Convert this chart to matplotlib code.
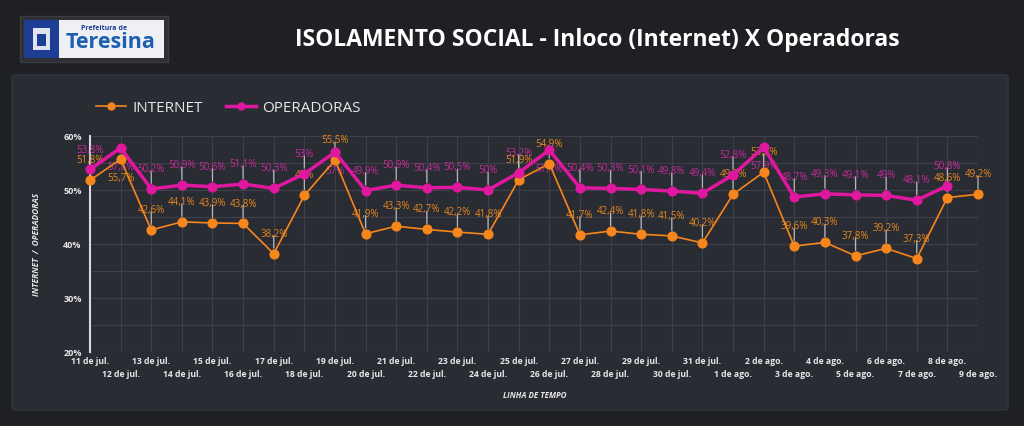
import matplotlib
matplotlib.use("Agg")
import matplotlib.pyplot as plt
from matplotlib.patches import FancyBboxPatch, Rectangle

dates = ["11 de jul.", "12 de jul.", "13 de jul.", "14 de jul.", "15 de jul.", "16 de jul.",
         "17 de jul.", "18 de jul.", "19 de jul.", "20 de jul.", "21 de jul.", "22 de jul.",
         "23 de jul.", "24 de jul.", "25 de jul.", "26 de jul.", "27 de jul.", "28 de jul.",
         "29 de jul.", "30 de jul.", "31 de jul.", "1 de ago.", "2 de ago.", "3 de ago.",
         "4 de ago.", "5 de ago.", "6 de ago.", "7 de ago.", "8 de ago.", "9 de ago."]
internet = [51.8, 55.7, 42.6, 44.1, 43.9, 43.8, 38.2, 49.0, 55.5, 41.9, 43.3, 42.7, 42.2, 41.8,
            51.9, 54.9, 41.7, 42.4, 41.8, 41.5, 40.2, 49.2, 53.3, 39.6, 40.3, 37.8, 39.2, 37.3,
            48.6, 49.2]
operadoras = [53.8, 57.8, 50.2, 50.9, 50.6, 51.1, 50.3, 53.0, 57.0, 49.9, 50.9, 50.4, 50.5, 50.0,
              53.2, 57.4, 50.4, 50.3, 50.1, 49.8, 49.4, 52.8, 57.9, 48.7, 49.3, 49.1, 49.0, 48.1,
              50.8]
yticks = [20, 30, 40, 50, 60]

# label placement: indices whose data label sits below the point
below_op = {1, 8, 15, 22}
below_int = {1}

C_INT = "#f7861c"
C_OP = "#e0179f"
C_INT_T = "#e8871e"
C_OP_T = "#c72a9c"
BG = "#1f2024"
PANEL = "#2a2c33"
GRID = "#3d4049"
FONT = "Open Sans"

W, H = 1024, 426
fig = plt.figure(figsize=(W / 100, H / 100), dpi=100, facecolor=BG)

def fx(px):
    return px / W

def fy(py):
    return 1 - py / H

# panel
fig.patches.append(FancyBboxPatch((fx(12), fy(410)), fx(996), (410 - 75) / H,
                                  boxstyle="round,pad=0,rounding_size=0.004",
                                  transform=fig.transFigure, facecolor=PANEL,
                                  edgecolor="#33353d", lw=1, zorder=-2))

# logo
fig.patches.append(Rectangle((fx(20), fy(62)), fx(148), 46 / H, transform=fig.transFigure,
                             facecolor="#2e3036", edgecolor="#3a3c42", lw=1, zorder=1))
fig.patches.append(Rectangle((fx(24), fy(58)), fx(140), 38 / H, transform=fig.transFigure,
                             facecolor="#eef0f4", edgecolor="none", zorder=2))
fig.patches.append(Rectangle((fx(24), fy(58)), fx(35), 38 / H, transform=fig.transFigure,
                             facecolor="#1d3e94", edgecolor="none", zorder=3))
fig.patches.append(Rectangle((fx(33), fy(50)), fx(17), 22 / H, transform=fig.transFigure,
                             facecolor="#dfe3ee", edgecolor="none", zorder=4))
fig.patches.append(Rectangle((fx(37), fy(46)), fx(9), 12 / H, transform=fig.transFigure,
                             facecolor="#1d3e94", edgecolor="none", zorder=5))
fig.text(fx(104), fy(29), "Prefeitura de", color="#1d3e94", fontsize=5, fontweight="bold",
         family=FONT, ha="center", va="center", zorder=6)
fig.text(fx(111), fy(43), "Teresina", color="#1d5fb0", fontsize=15.5, fontweight="bold",
         family=FONT, ha="center", va="center", zorder=6)

# title
fig.text(fx(597), fy(40), "ISOLAMENTO SOCIAL - Inloco (Internet) X Operadoras", color="white",
         fontsize=16.5, fontweight="bold", family=FONT, ha="center", va="center")

ax = fig.add_axes([fx(90), fy(352), fx(978 - 90), (352 - 136) / H])
ax.patch.set_alpha(0)
x = list(range(len(dates)))
ax.set_xlim(0, len(dates) - 1)
ax.set_ylim(20, 60)

ax.plot(x[:len(operadoras)], operadoras, color=C_OP, lw=2.5, marker="o", ms=6.3,
        clip_on=False, zorder=5, label="OPERADORAS")
ax.plot(x, internet, color=C_INT, lw=1.2, marker="o", ms=6.3, clip_on=False, zorder=4,
        label="INTERNET")

# grid
ax.set_yticks(yticks)
ax.set_yticks([25, 35, 45, 55], minor=True)
ax.set_xticks(x)
ax.grid(True, which="both", color=GRID, lw=0.8)
ax.set_axisbelow(True)
ax.tick_params(axis="both", which="both", length=0)
ax.tick_params(axis="y", pad=6)
ax.set_xticklabels([])
ax.set_yticklabels([f"{v}%" for v in yticks], color="#e6e6e6", fontsize=6.5,
                   fontweight="bold", family=FONT)
for s in ["top", "right", "bottom"]:
    ax.spines[s].set_visible(False)
ax.spines["left"].set_color("#d8d8d8")
ax.spines["left"].set_linewidth(1.5)

# x labels in two rows
for i, d in enumerate(dates):
    off = -7 if i % 2 == 0 else -16
    ax.annotate(d, xy=(i, 0), xycoords=("data", "axes fraction"), xytext=(0, off),
                textcoords="offset points", ha="center", va="center", color="#e6e6e6",
                fontsize=6.2, fontweight="bold", family=FONT, annotation_clip=False)

# data labels with leader lines
def fmt(v):
    s = f"{v:.1f}".replace(".", ",")
    if s.endswith(",0"):
        s = s[:-2]
    return s + "%"

def label_series(vals, col, below):
    for i, v in enumerate(vals):
        sgn = -1 if i in below else 1
        if sgn > 0:
            ax.annotate("", xy=(i, v), xytext=(0, 13), textcoords="offset points",
                        xycoords="data",
                        arrowprops=dict(arrowstyle="-", color="#b5b7bd", lw=0.9,
                                        shrinkA=0, shrinkB=4), zorder=3,
                        annotation_clip=False)
        ax.annotate(fmt(v), xy=(i, v), xytext=(0, 14 * sgn), textcoords="offset points",
                    ha="center", va="center", color=col, fontsize=7, family=FONT,
                    zorder=3.5, annotation_clip=False)

label_series(operadoras, C_OP_T, below_op)
label_series(internet, C_INT_T, below_int)

ax.set_ylabel("INTERNET  /  OPERADORAS", color="#e6e6e6", fontsize=6, fontweight="bold",
              style="italic", family=FONT, labelpad=16)
fig.text(fx(535), fy(395), "LINHA DE TEMPO", color="#e6e6e6", fontsize=5.8,
         fontweight="bold", style="italic", family=FONT, ha="center", va="center")

leg = fig.legend(handles=[ax.lines[1], ax.lines[0]], labels=["INTERNET", "OPERADORAS"],
                 loc="center left", bbox_to_anchor=(fx(82), fy(108)), ncol=2, frameon=False,
                 prop={"family": FONT, "size": 11}, handlelength=2.0, columnspacing=1.5,
                 handletextpad=0.4)
for t in leg.get_texts():
    t.set_color("#e6e6e6")
for h in leg.legend_handles:
    h.set_markersize(5)

fig.savefig("out.png", dpi=100, facecolor=BG)
